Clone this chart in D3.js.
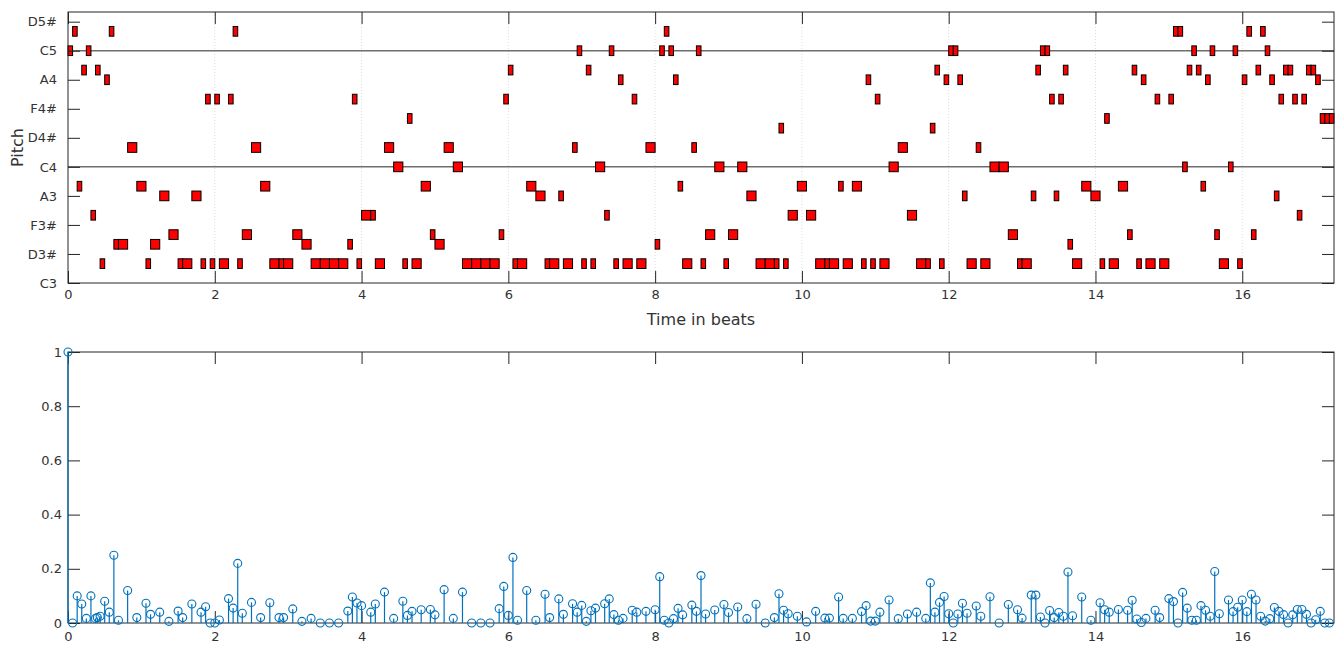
<!DOCTYPE html>
<html>
<head>
<meta charset="utf-8">
<script src="https://cdn.jsdelivr.net/npm/d3@7"></script>
<style>
  body { margin: 0; background: #fff; }
  text { font-family: "DejaVu Sans", sans-serif; }
</style>
</head>
<body>
<div id="my_dataviz"></div>
<script>

// note onsets (beats), pitches (midi) and durations (beats)
var noteOnsets = [
  0, 0.0625, 0.125, 0.1875, 0.25, 0.3125, 0.375, 0.4375, 0.5, 0.5625, 0.625, 0.6875, 0.8125, 0.9375,
  1.0625, 1.125, 1.25, 1.375, 1.5, 1.5625, 1.6875, 1.8125, 1.875, 1.9375,
  2.0, 2.0625, 2.1875, 2.25, 2.3125, 2.375, 2.5, 2.625, 2.75, 2.875, 2.9375,
  3.0625, 3.1875, 3.3125, 3.4375, 3.5625, 3.6875, 3.8125, 3.875, 3.9375,
  4.0, 4.125, 4.1875, 4.3125, 4.4375, 4.5625, 4.625, 4.6875, 4.8125, 4.9375,
  5.0, 5.125, 5.25, 5.375, 5.5, 5.625, 5.75, 5.875, 5.9375,
  6.0, 6.0625, 6.125, 6.25, 6.375, 6.5, 6.5625, 6.6875, 6.75, 6.875, 6.9375,
  7.0, 7.0625, 7.125, 7.1875, 7.3125, 7.375, 7.4375, 7.5, 7.5625, 7.6875, 7.75, 7.875,
  8.0, 8.0625, 8.125, 8.1875, 8.25, 8.3125, 8.375, 8.5, 8.5625, 8.625, 8.6875, 8.8125, 8.9375,
  9.0, 9.125, 9.25, 9.375, 9.5, 9.625, 9.6875, 9.75, 9.8125, 9.9375,
  10.0625, 10.1875, 10.3125, 10.375, 10.5, 10.5625, 10.6875, 10.8125, 10.875, 10.9375,
  11.0, 11.0625, 11.1875, 11.3125, 11.4375, 11.5625, 11.6875, 11.75, 11.8125, 11.875, 11.9375,
  12.0, 12.0625, 12.125, 12.1875, 12.25, 12.375, 12.4375, 12.5625, 12.6875, 12.8125, 12.9375,
  13.0, 13.125, 13.1875, 13.25, 13.3125, 13.375, 13.4375, 13.5, 13.5625, 13.625, 13.6875, 13.8125, 13.9375,
  14.0625, 14.125, 14.1875, 14.3125, 14.4375, 14.5, 14.5625, 14.625, 14.6875, 14.8125, 14.875,
  15.0, 15.0625, 15.125, 15.1875, 15.25, 15.3125, 15.375, 15.4375, 15.5, 15.5625, 15.625, 15.6875, 15.8125, 15.875, 15.9375,
  16.0, 16.0625, 16.125, 16.1875, 16.25, 16.3125, 16.375, 16.4375, 16.5, 16.5625, 16.625, 16.6875, 16.75, 16.8125, 16.875, 16.9375,
  17.0, 17.0625, 17.125, 17.1875
];
var notePitches = [
  72, 74, 58, 70, 72, 55, 70, 50, 69, 74, 52, 52, 62, 58,
  50, 52, 57, 53, 50, 50, 57, 50, 67, 50,
  67, 50, 67, 74, 50, 53, 62, 58, 50, 50, 50,
  53, 52, 50, 50, 50, 50, 52, 67, 50,
  55, 55, 50, 62, 60, 50, 65, 50, 58, 53,
  52, 62, 60, 50, 50, 50, 50, 53, 67,
  70, 50, 50, 58, 57, 50, 50, 57, 50, 62, 72,
  50, 70, 50, 60, 55, 72, 50, 69, 50, 67, 50, 62,
  52, 72, 74, 72, 69, 58, 50, 62, 72, 50, 53, 60, 50,
  53, 60, 57, 50, 50, 50, 64, 50, 55, 58,
  55, 50, 50, 50, 58, 50, 58, 50, 69, 50,
  67, 50, 60, 62, 55, 50, 50, 64, 70, 50, 69,
  72, 72, 69, 57, 50, 62, 50, 60, 60, 53, 50,
  50, 57, 70, 72, 72, 67, 57, 67, 70, 52, 50, 58, 57,
  50, 65, 50, 58, 53, 70, 50, 69, 50, 67, 50,
  67, 74, 74, 60, 70, 72, 70, 58, 69, 72, 53, 50, 60, 72, 50,
  69, 74, 53, 70, 74, 72, 69, 57, 67, 70, 70, 67, 55, 67, 70, 70,
  69, 65, 65, 65
];
var noteDurations = [
  0.0625, 0.0625, 0.0625, 0.0625, 0.0625, 0.0625, 0.0625, 0.0625, 0.0625, 0.0625, 0.0625, 0.125, 0.125, 0.125,
  0.0625, 0.125, 0.125, 0.125, 0.0625, 0.125, 0.125, 0.0625, 0.0625, 0.0625,
  0.0625, 0.125, 0.0625, 0.0625, 0.0625, 0.125, 0.125, 0.125, 0.125, 0.0625, 0.125,
  0.125, 0.125, 0.125, 0.125, 0.125, 0.125, 0.0625, 0.0625, 0.0625,
  0.125, 0.0625, 0.125, 0.125, 0.125, 0.0625, 0.0625, 0.125, 0.125, 0.0625,
  0.125, 0.125, 0.125, 0.125, 0.125, 0.125, 0.125, 0.0625, 0.0625,
  0.0625, 0.0625, 0.125, 0.125, 0.125, 0.0625, 0.125, 0.0625, 0.125, 0.0625, 0.0625,
  0.0625, 0.0625, 0.0625, 0.125, 0.0625, 0.0625, 0.0625, 0.0625, 0.125, 0.0625, 0.125, 0.125,
  0.0625, 0.0625, 0.0625, 0.0625, 0.0625, 0.0625, 0.125, 0.0625, 0.0625, 0.0625, 0.125, 0.125, 0.0625,
  0.125, 0.125, 0.125, 0.125, 0.125, 0.0625, 0.0625, 0.0625, 0.125, 0.125,
  0.125, 0.125, 0.0625, 0.125, 0.0625, 0.125, 0.125, 0.0625, 0.0625, 0.0625,
  0.0625, 0.125, 0.125, 0.125, 0.125, 0.125, 0.0625, 0.0625, 0.0625, 0.0625, 0.0625,
  0.0625, 0.0625, 0.0625, 0.0625, 0.125, 0.0625, 0.125, 0.125, 0.125, 0.125, 0.0625,
  0.125, 0.0625, 0.0625, 0.0625, 0.0625, 0.0625, 0.0625, 0.0625, 0.0625, 0.0625, 0.125, 0.125, 0.125,
  0.0625, 0.0625, 0.125, 0.125, 0.0625, 0.0625, 0.0625, 0.0625, 0.125, 0.0625, 0.125,
  0.0625, 0.0625, 0.0625, 0.0625, 0.0625, 0.0625, 0.0625, 0.0625, 0.0625, 0.0625, 0.0625, 0.125, 0.0625, 0.0625, 0.0625,
  0.0625, 0.0625, 0.0625, 0.0625, 0.0625, 0.0625, 0.0625, 0.0625, 0.0625, 0.0625, 0.0625, 0.0625, 0.0625, 0.0625, 0.0625, 0.0625,
  0.0625, 0.0625, 0.0625, 0.0625
];

// pitch axis ticks
var pitchTicks = [48, 51, 54, 57, 60, 63, 66, 69, 72, 75];
var pitchTickLabels = ["C3", "D3#", "F3#", "A3", "C4", "D4#", "F4#", "A4", "C5", "D5#"];
var pitchLines = [60, 72];

// stem plot: time (beats) and value
var stemBeats = [
  0, 0.0625, 0.125, 0.1875, 0.25, 0.3125, 0.375, 0.40, 0.4375, 0.5, 0.5625, 0.625, 0.6875, 0.8125, 0.9375,
  1.0625, 1.125, 1.25, 1.375, 1.5, 1.5625, 1.6875, 1.8125, 1.875, 1.9375,
  2.0, 2.0625, 2.1875, 2.25, 2.3125, 2.375, 2.5, 2.625, 2.75, 2.875, 2.9375,
  3.0625, 3.1875, 3.3125, 3.4375, 3.5625, 3.6875, 3.8125, 3.875, 3.9375,
  4.0, 4.125, 4.1875, 4.3125, 4.4375, 4.5625, 4.625, 4.6875, 4.8125, 4.9375,
  5.0, 5.125, 5.25, 5.375, 5.5, 5.625, 5.75, 5.875, 5.9375,
  6.0, 6.0625, 6.125, 6.25, 6.375, 6.5, 6.5625, 6.6875, 6.75, 6.875, 6.9375,
  7.0, 7.0625, 7.125, 7.1875, 7.3125, 7.375, 7.4375, 7.5, 7.5625, 7.6875, 7.75, 7.875,
  8.0, 8.0625, 8.125, 8.1875, 8.25, 8.3125, 8.375, 8.5, 8.5625, 8.625, 8.6875, 8.8125, 8.9375,
  9.0, 9.125, 9.25, 9.375, 9.5, 9.625, 9.6875, 9.75, 9.8125, 9.9375,
  10.0625, 10.1875, 10.3125, 10.375, 10.5, 10.5625, 10.6875, 10.8125, 10.875, 10.9375,
  11.0, 11.0625, 11.1875, 11.3125, 11.4375, 11.5625, 11.6875, 11.75, 11.8125, 11.875, 11.9375,
  12.0, 12.0625, 12.125, 12.1875, 12.25, 12.375, 12.4375, 12.5625, 12.6875, 12.8125, 12.9375,
  13.0, 13.125, 13.1875, 13.25, 13.3125, 13.375, 13.4375, 13.5, 13.5625, 13.625, 13.6875, 13.8125, 13.9375,
  14.0625, 14.125, 14.1875, 14.3125, 14.4375, 14.5, 14.5625, 14.625, 14.6875, 14.8125, 14.875,
  15.0, 15.0625, 15.125, 15.1875, 15.25, 15.3125, 15.375, 15.4375, 15.5, 15.5625, 15.625, 15.6875, 15.8125, 15.875, 15.9375,
  16.0, 16.0625, 16.125, 16.1875, 16.25, 16.3125, 16.375, 16.4375, 16.5, 16.5625, 16.625, 16.6875, 16.75, 16.8125, 16.875, 16.9375,
  17.0, 17.0625, 17.125, 17.1875
];
var stemValues = [
  1, 0, 0.10, 0.07, 0.017, 0.10, 0.017, 0.02, 0.025, 0.08, 0.04, 0.25, 0.01, 0.12, 0.02,
  0.073, 0.032, 0.04, 0.006, 0.044, 0.02, 0.07, 0.04, 0.06, 0,
  0, 0.011, 0.09, 0.055, 0.22, 0.036, 0.076, 0.02, 0.075, 0.02, 0.02,
  0.052, 0.006, 0.017, 0, 0, 0, 0.044, 0.096, 0.074,
  0.064, 0.04, 0.07, 0.114, 0.017, 0.08, 0.028, 0.043, 0.049, 0.05,
  0.03, 0.123, 0.017, 0.114, 0, 0, 0, 0.053, 0.135,
  0.028, 0.242, 0.01, 0.12, 0.01, 0.106, 0.02, 0.089, 0.032, 0.071, 0.04,
  0.065, 0.006, 0.045, 0.055, 0.071, 0.089, 0.031, 0.01, 0.017, 0.047, 0.04, 0.043,
  0.049, 0.171, 0.01, 0, 0.016, 0.054, 0.03, 0.066, 0.043, 0.175, 0.033, 0.048, 0.068,
  0.039, 0.059, 0.016, 0.069, 0, 0.02, 0.108, 0.047, 0.034, 0.025,
  0.004, 0.043, 0.018, 0.018, 0.096, 0.017, 0.017, 0.042, 0.064, 0.007,
  0.007, 0.04, 0.085, 0.016, 0.033, 0.04, 0.017, 0.148, 0.04, 0.076, 0.098,
  0.034, 0, 0.033, 0.073, 0.036, 0.063, 0.025, 0.097, 0, 0.068, 0.049,
  0.018, 0.103, 0.103, 0.022, 0, 0.046, 0.02, 0.039, 0.025, 0.188, 0.027, 0.096, 0.01,
  0.075, 0.049, 0.04, 0.05, 0.047, 0.084, 0.015, 0.002, 0.017, 0.047, 0.02,
  0.09, 0.079, 0, 0.113, 0.055, 0.01, 0.01, 0.064, 0.047, 0.025, 0.19, 0.034, 0.085, 0.042, 0.058,
  0.085, 0.042, 0.106, 0.085, 0.025, 0.007, 0.016, 0.057, 0.043, 0.031, 0, 0.03, 0.05, 0.05, 0.032, 0,
  0.012, 0.043, 0, 0
];
var stemTicks = [0, 0.2, 0.4, 0.6, 0.8, 1];
var beatTicks = [0, 2, 4, 6, 8, 10, 12, 14, 16];

var W = 1342, H = 646;
var left = 68, right = 1334;
var top1 = 12, bottom1 = 283;
var top2 = 352, bottom2 = 623;
var tickLen = 12;
var axisColor = "#262626";

var svg = d3.select("#my_dataviz")
  .append("svg")
    .attr("width", W)
    .attr("height", H);

var x = d3.scaleLinear()
  .domain([0, 17.25])
  .range([left, right]);

var yPitch = d3.scaleLinear()
  .domain([48, 76])
  .range([bottom1, top1]);

var yStem = d3.scaleLinear()
  .domain([0, 1])
  .range([bottom2, top2]);

function styleAxis(g) {
  g.select(".domain").remove();
  g.selectAll("line").attr("stroke", axisColor).attr("stroke-width", 1);
  g.selectAll("text")
    .attr("fill", "#333")
    .style("font-size", "13px")
    .style("font-family", "DejaVu Sans");
}

// ---------- top panel: piano roll ----------
var p1 = svg.append("g");

// dotted vertical grid
p1.selectAll(".vgrid")
  .data(beatTicks.slice(1))
  .enter()
  .append("line")
    .attr("x1", function(d) { return x(d); })
    .attr("x2", function(d) { return x(d); })
    .attr("y1", top1)
    .attr("y2", bottom1)
    .attr("stroke", "#dcdcdc")
    .attr("stroke-width", 1)
    .attr("stroke-dasharray", "1,2");

// C4 / C5 reference lines
p1.selectAll(".hline")
  .data(pitchLines)
  .enter()
  .append("line")
    .attr("x1", left)
    .attr("x2", right)
    .attr("y1", function(d) { return yPitch(d); })
    .attr("y2", function(d) { return yPitch(d); })
    .attr("stroke", "#6e6e6e")
    .attr("stroke-width", 1.5);

// notes
var notes = noteOnsets.map(function(t, i) {
  return {t: t, p: notePitches[i], d: noteDurations[i]};
});

p1.selectAll(".note")
  .data(notes)
  .enter()
  .append("rect")
    .attr("x", function(d) { return x(d.t); })
    .attr("y", function(d) { return yPitch(d.p + 0.5); })
    .attr("width", function(d) { return x(d.t + d.d) - x(d.t); })
    .attr("height", function(d) { return yPitch(d.p - 0.5) - yPitch(d.p + 0.5); })
    .attr("fill", "#ff0000")
    .attr("stroke", "#000")
    .attr("stroke-width", 1);

// axes
p1.append("g")
  .attr("transform", "translate(0," + bottom1 + ")")
  .call(d3.axisBottom(x).tickValues(beatTicks).tickFormat(d3.format("d"))
    .tickSize(-tickLen).tickPadding(7))
  .call(styleAxis);
p1.append("g")
  .attr("transform", "translate(0," + top1 + ")")
  .call(d3.axisTop(x).tickValues(beatTicks).tickFormat("").tickSize(-tickLen))
  .call(styleAxis);
p1.append("g")
  .attr("transform", "translate(" + left + ",0)")
  .call(d3.axisLeft(yPitch).tickValues(pitchTicks)
    .tickFormat(function(d, i) { return pitchTickLabels[i]; })
    .tickSize(-tickLen).tickPadding(11))
  .call(styleAxis);
p1.append("g")
  .attr("transform", "translate(" + right + ",0)")
  .call(d3.axisRight(yPitch).tickValues(pitchTicks).tickFormat("").tickSize(-tickLen))
  .call(styleAxis);

p1.append("rect")
  .attr("x", left)
  .attr("y", top1)
  .attr("width", right - left)
  .attr("height", bottom1 - top1)
  .attr("fill", "none")
  .attr("stroke", axisColor)
  .attr("stroke-width", 1);

p1.append("text")
  .attr("x", (left + right) / 2)
  .attr("y", 325)
  .attr("text-anchor", "middle")
  .attr("fill", "#333")
  .style("font-size", "16px")
  .text("Time in beats");

p1.append("text")
  .attr("transform", "translate(23," + ((top1 + bottom1) / 2) + ")rotate(-90)")
  .attr("text-anchor", "middle")
  .attr("fill", "#333")
  .style("font-size", "16px")
  .text("Pitch");

// ---------- bottom panel: stem plot ----------
var p2 = svg.append("g");

p2.append("g")
  .attr("transform", "translate(0," + bottom2 + ")")
  .call(d3.axisBottom(x).tickValues(beatTicks).tickFormat(d3.format("d"))
    .tickSize(-tickLen).tickPadding(9))
  .call(styleAxis);
p2.append("g")
  .attr("transform", "translate(0," + top2 + ")")
  .call(d3.axisTop(x).tickValues(beatTicks).tickFormat("").tickSize(-tickLen))
  .call(styleAxis);
p2.append("g")
  .attr("transform", "translate(" + left + ",0)")
  .call(d3.axisLeft(yStem).tickValues(stemTicks).tickFormat(d3.format("~g"))
    .tickSize(-tickLen).tickPadding(6))
  .call(styleAxis);
p2.append("g")
  .attr("transform", "translate(" + right + ",0)")
  .call(d3.axisRight(yStem).tickValues(stemTicks).tickFormat("").tickSize(-tickLen))
  .call(styleAxis);

p2.append("rect")
  .attr("x", left)
  .attr("y", top2)
  .attr("width", right - left)
  .attr("height", bottom2 - top2)
  .attr("fill", "none")
  .attr("stroke", axisColor)
  .attr("stroke-width", 1);

var stems = stemBeats.map(function(t, i) { return {t: t, v: stemValues[i]}; });

p2.selectAll(".stem")
  .data(stems)
  .enter()
  .append("line")
    .attr("x1", function(d) { return x(d.t); })
    .attr("x2", function(d) { return x(d.t); })
    .attr("y1", yStem(0))
    .attr("y2", function(d) { return yStem(d.v); })
    .attr("stroke", "#0072bd")
    .attr("stroke-width", 1.2);

p2.selectAll(".mark")
  .data(stems)
  .enter()
  .append("circle")
    .attr("cx", function(d) { return x(d.t); })
    .attr("cy", function(d) { return yStem(d.v); })
    .attr("r", 4)
    .attr("fill", "none")
    .attr("stroke", "#0072bd")
    .attr("stroke-width", 1.1);

</script>
</body>
</html>
